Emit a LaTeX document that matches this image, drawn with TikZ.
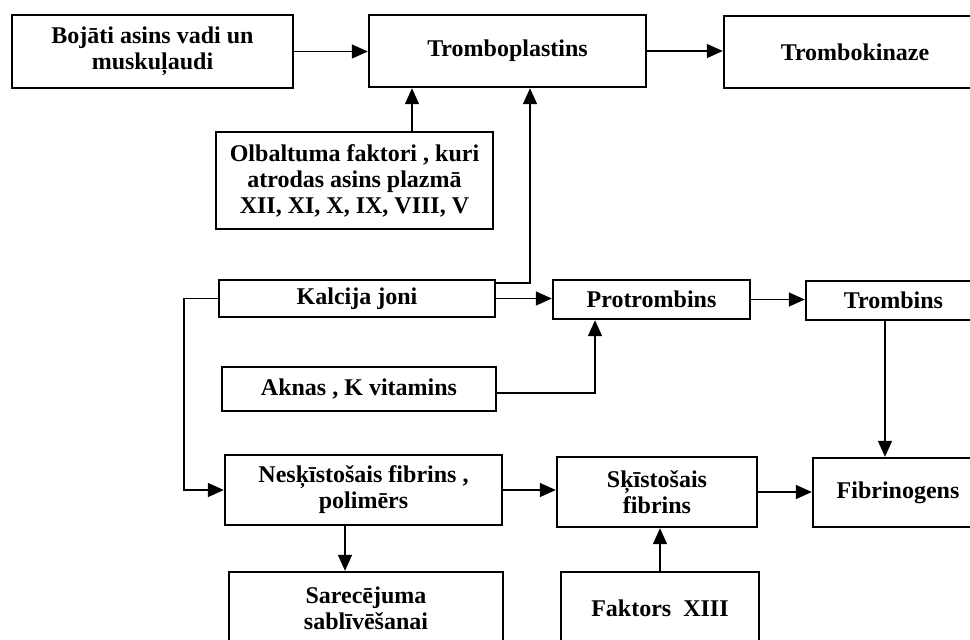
\documentclass[tikz,border=0pt]{standalone}
\usepackage{fontspec}
\setmainfont{Liberation Serif}
\usetikzlibrary{arrows.meta}
\tikzset{
  box/.style={draw, line width=1.2pt, align=center, inner sep=0pt,
    font=\fontsize{12}{13}\selectfont\bfseries},
  arr/.style={line width=0.75pt, -{Triangle[length=8pt,width=7pt]}}
}
\begin{document}
\begin{tikzpicture}[x=0.5pt,y=-0.5pt]
  \useasboundingbox (0,0) rectangle (970,639);
  \clip (0,0) rectangle (970,639);
  \node[box, minimum width=140.5pt, minimum height=36.5pt] (bojati) at (152.5,51.5) {Bojāti asins vadi un\\muskuļaudi};
  \node[box, minimum width=138.5pt, minimum height=36pt] (tplast) at (507.5,51) {Tromboplastins};
  \node[box, minimum width=131pt, minimum height=36pt] (tkin) at (855,52) {Trombokinaze};
  \node[box, minimum width=138.5pt, minimum height=48.5pt] (olb) at (354.5,180.5) {Olbaltuma faktori , kuri\\atrodas asins plazmā\\XII, XI, X, IX, VIII, V};
  \node[box, minimum width=138pt, minimum height=18.5pt] (kalc) at (357,298.5) {Kalcija joni};
  \node[box, minimum width=137pt, minimum height=22pt] (akn) at (359,389) {Aknas , K vitamins};
  \node[box, minimum width=98.5pt, minimum height=19.5pt] (protr) at (651.5,299.5) {Protrombins};
  \node[box, minimum width=87.5pt, minimum height=19.5pt] (tromb) at (893.5,300.5) {Trombins};
  \node[box, minimum width=138.5pt, minimum height=35pt] (nesk) at (363.5,490) {Nesķīstošais fibrins ,\\polimērs};
  \node[box, minimum width=100pt, minimum height=35pt] (skist) at (657,492) {Sķīstošais\\fibrins};
  \node[box, minimum width=85pt, minimum height=34.5pt] (fibr) at (898,492.5) {Fibrinogens};
  \node[box, minimum width=137pt, minimum height=36pt] (sarec) at (366,608) {Sarecējuma\\sablīvēšanai};
  \node[box, minimum width=99pt, minimum height=36pt] (fakt) at (660,608) {Faktors\ \ XIII};

  \draw[arr] (bojati.east) -- (tplast.west |- bojati.east);
  \draw[arr] (tplast.east) -- (tkin.west |- tplast.east);
  \draw[arr] (olb.north -| 412,0) -- (tplast.south -| 412,0);
  \draw[arr] (kalc.east |- 0,283) -| (tplast.south -| 530,0);
  \draw[arr] (kalc.east) -- (protr.west |- kalc.east);
  \draw[arr] (protr.east) -- (tromb.west |- protr.east);
  \draw[arr] (akn.east |- 0,393) -| (protr.south -| 595,0);
  \draw[arr] (tromb.south -| 885,0) -- (fibr.north -| 885,0);
  \draw[arr] (kalc.west) -| (nesk.west -| 184,0) -- (nesk.west);
  \draw[arr] (nesk.east) -- (skist.west |- nesk.east);
  \draw[arr] (skist.east) -- (fibr.west |- skist.east);
  \draw[arr] (nesk.south -| 345,0) -- (sarec.north -| 345,0);
  \draw[arr] (fakt.north) -- (skist.south -| fakt.north);
\end{tikzpicture}
\end{document}
